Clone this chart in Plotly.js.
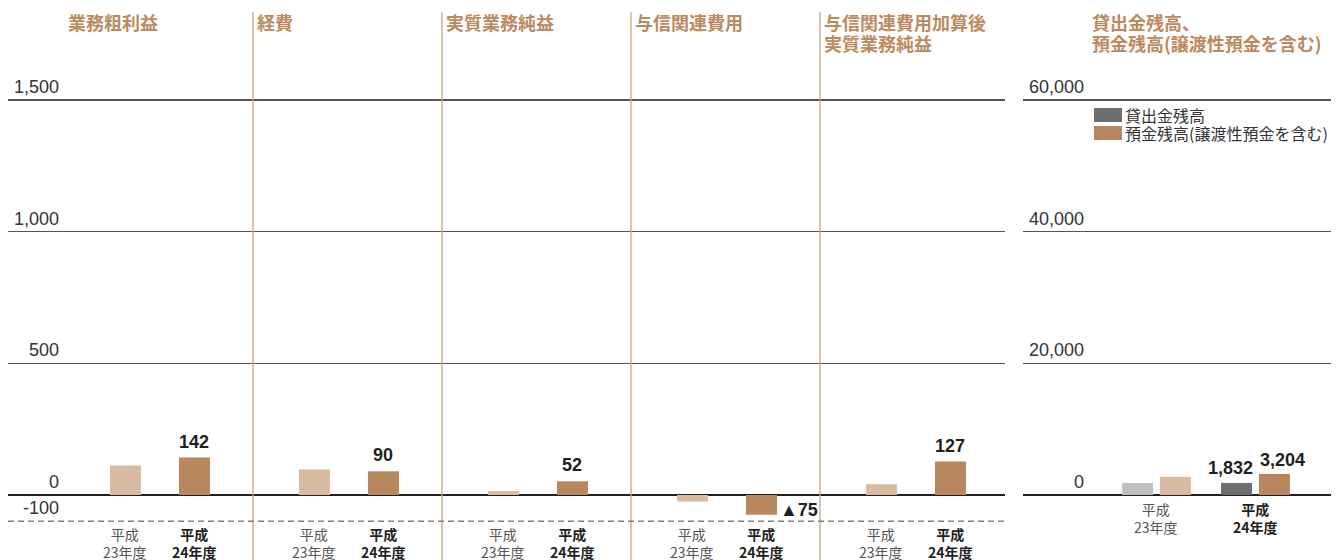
<!DOCTYPE html>
<html>
<head>
<meta charset="utf-8">
<script src="https://cdn.plot.ly/plotly-3.0.1.min.js"></script>
<style>html,body{margin:0;padding:0;background:#fff;}#chart{width:1342px;height:560px;}</style>
</head>
<body>
<div id="chart"></div>
<script>
// ---- data ----
const categories = ['業務粗利益', '経費', '実質業務純益', '与信関連費用', '与信関連費用加算後<br>実質業務純益'];
const fy23 = [112, 97, 15, -25, 41];
const fy24 = [142, 90, 52, -75, 127];
const periodLabels = ['平成<br>23年度', '平成<br>24年度'];
const leftTickVals = [-100, 0, 500, 1000, 1500];
const leftTickText = ['-100', '0', '500', '1,000', '1,500'];

const rightTitle = '貸出金残高、<br>預金残高(譲渡性預金を含む)';
const rightSeries = ['貸出金残高', '預金残高(譲渡性預金を含む)'];
const loans = [1820, 1832];
const deposits = [2750, 3204];
const rightTickVals = [0, 20000, 40000, 60000];
const rightTickText = ['0', '20,000', '40,000', '60,000'];

// ---- styling ----
const W = 1342, H = 560;
const JP = '"Noto Sans CJK JP", "Noto Sans", sans-serif';
const NUM = '"Liberation Sans", Arial, sans-serif';
const brown = '#b8875e', lightBrown = '#d9bba1', darkGray = '#6d6e70', lightGray = '#bdbfc1';
const titleColor = '#bc8a60';

const zeroPx = 495, pxPerUnit = 395 / 1500;
const yMinL = -125, yMaxL = 1520;
const yDomain = [(H - (zeroPx - yMinL * pxPerUnit)) / H, (H - (zeroPx - yMaxL * pxPerUnit)) / H];
const rScale = 40;

const wL = 0.164, off23 = -0.2566, off24 = 0.1085;
const wR = 0.313, offLoan = -0.348, offDep = 0.035;

const xs = categories.map((_, i) => i);
const xr = [0, 1];

const traces = [
  {type: 'bar', name: '平成23年度', x: xs, y: fy23, width: wL, offset: off23,
   marker: {color: lightBrown}, xaxis: 'x', yaxis: 'y', hoverinfo: 'y'},
  {type: 'bar', name: '平成24年度', x: xs, y: fy24, width: wL, offset: off24,
   marker: {color: brown}, xaxis: 'x', yaxis: 'y', hoverinfo: 'y'},
  {type: 'bar', name: rightSeries[0], x: xr, y: loans, width: wR, offset: offLoan,
   marker: {color: [lightGray, darkGray]}, xaxis: 'x2', yaxis: 'y2', hoverinfo: 'y'},
  {type: 'bar', name: rightSeries[1], x: xr, y: deposits, width: wR, offset: offDep,
   marker: {color: [lightBrown, brown]}, xaxis: 'x2', yaxis: 'y2', hoverinfo: 'y'}
];

const fmt = v => Math.abs(v).toLocaleString('en-US');
const annotations = [];
const shapes = [];

// panel titles (each line placed separately for tight line spacing)
const titleFont = {family: JP, size: 18, color: titleColor, weight: 'bold'};
function addTitle(text, xref, x, xshift) {
  text.split('<br>').forEach((line, li) => {
    annotations.push({xref: xref, yref: 'paper', x: x, xshift: xshift, y: (H - 22.5 - li * 21) / H,
      xanchor: 'left', yanchor: 'middle', align: 'left', showarrow: false, text: line, font: titleFont});
  });
}
categories.forEach((c, i) => addTitle(c, 'x', i - 0.5, 2));
addTitle(rightTitle, 'paper', 1090 / W, 0);

// y tick labels
leftTickVals.forEach((v, k) => {
  annotations.push({xref: 'paper', yref: 'y', x: 61 / W, y: v, xanchor: 'right', yanchor: 'middle',
    yshift: 13, showarrow: false, text: leftTickText[k], font: {family: NUM, size: 18, color: '#333'}});
});
rightTickVals.forEach((v, k) => {
  annotations.push({xref: 'paper', yref: 'y2', x: 1086 / W, y: v, xanchor: 'right', yanchor: 'middle',
    yshift: 13, showarrow: false, text: rightTickText[k], font: {family: NUM, size: 18, color: '#333'}});
});

// period labels (left panels)
xs.forEach(i => {
  [off23, off24].forEach((off, p) => {
    annotations.push({xref: 'x', yref: 'paper', x: i + off + wL / 2, y: (H - 543) / H,
      xanchor: 'center', yanchor: 'middle', showarrow: false, text: periodLabels[p],
      font: {family: JP, size: 14, color: p === 0 ? '#555' : '#231f20', weight: p === 0 ? 'normal' : 'bold'}});
  });
});
// period labels (right chart)
xr.forEach(j => {
  annotations.push({xref: 'x2', yref: 'paper', x: j + (offLoan + offDep + wR) / 2, y: (H - 518) / H,
    xanchor: 'center', yanchor: 'middle', showarrow: false, text: periodLabels[j],
    font: {family: JP, size: 14, color: j === 0 ? '#555' : '#231f20', weight: j === 0 ? 'normal' : 'bold'}});
});

// value labels (latest year)
fy24.forEach((v, i) => {
  if (v >= 0) {
    annotations.push({xref: 'x', yref: 'y', x: i + off24 + wL / 2, y: v, xanchor: 'center', yanchor: 'bottom',
      yshift: 4, showarrow: false, text: fmt(v), font: {family: NUM, size: 18, color: '#231f20', weight: 'bold'}});
  } else {
    annotations.push({xref: 'x', yref: 'y', x: i + off24 + wL, y: v, xanchor: 'left', yanchor: 'middle',
      xshift: 1, yshift: 5, showarrow: false, text: '▲' + fmt(v), font: {family: NUM, size: 18, color: '#231f20', weight: 'bold'}});
  }
});
annotations.push({xref: 'x2', yref: 'y2', x: 1 + offLoan + wR, y: loans[1], xanchor: 'right', yanchor: 'bottom',
  xshift: 3, yshift: 3, showarrow: false, text: fmt(loans[1]), font: {family: NUM, size: 18, color: '#231f20', weight: 'bold'}});
annotations.push({xref: 'x2', yref: 'y2', x: 1 + offDep, y: deposits[1], xanchor: 'left', yanchor: 'bottom',
  xshift: -1, yshift: 2, showarrow: false, text: fmt(deposits[1]), font: {family: NUM, size: 18, color: '#231f20', weight: 'bold'}});

// legend (right chart)
const legendColors = [darkGray, brown];
rightSeries.forEach((s, k) => {
  const top = 108 + k * 18;
  shapes.push({type: 'rect', xref: 'paper', yref: 'paper', x0: 1094 / W, x1: 1122 / W,
    y0: (H - top - 14) / H, y1: (H - top) / H, fillcolor: legendColors[k], line: {width: 0}});
  annotations.push({xref: 'paper', yref: 'paper', x: 1123 / W, y: (H - top - 7) / H, xanchor: 'left',
    yanchor: 'middle', showarrow: false, text: s, font: {family: JP, size: 16, color: '#333'}});
});

// panel separators
for (let k = 0; k < categories.length - 1; k++) {
  shapes.push({type: 'line', xref: 'x', yref: 'paper', x0: k + 0.5, x1: k + 0.5, y0: 0, y1: (H - 12) / H,
    line: {color: '#c9a27f', width: 1.3}});
}
// dashed baseline at -100
shapes.push({type: 'line', xref: 'paper', yref: 'y', x0: 8 / W, x1: 1005 / W, y0: -100, y1: -100,
  line: {color: '#808080', width: 1.5, dash: '6px,4px'}});

const axBase = {showticklabels: false, ticks: '', fixedrange: true};
const layout = {
  width: W, height: H, margin: {l: 0, r: 0, t: 0, b: 0},
  paper_bgcolor: '#fff', plot_bgcolor: 'rgba(0,0,0,0)',
  showlegend: false, barmode: 'overlay',
  xaxis: Object.assign({}, axBase, {domain: [8 / W, 1005 / W], range: [-0.796, 4.479], showgrid: false, zeroline: false, anchor: 'y'}),
  yaxis: Object.assign({}, axBase, {domain: yDomain, range: [yMinL, yMaxL], tickvals: leftTickVals.slice(2),
    showgrid: true, gridcolor: '#555', gridwidth: 1.2, zeroline: true, zerolinecolor: '#231f20', zerolinewidth: 1.6, anchor: 'x'}),
  xaxis2: Object.assign({}, axBase, {domain: [1023 / W, 1331 / W], range: [-1.348, 1.763], showgrid: false, zeroline: false, anchor: 'y2'}),
  yaxis2: Object.assign({}, axBase, {domain: yDomain, range: [yMinL * rScale, yMaxL * rScale], tickvals: rightTickVals.slice(1),
    showgrid: true, gridcolor: '#555', gridwidth: 1.2, zeroline: true, zerolinecolor: '#231f20', zerolinewidth: 1.6, anchor: 'x2'}),
  annotations: annotations, shapes: shapes,
  font: {family: JP}
};
Plotly.newPlot('chart', traces, layout, {displayModeBar: false, staticPlot: true});
</script>
</body>
</html>
